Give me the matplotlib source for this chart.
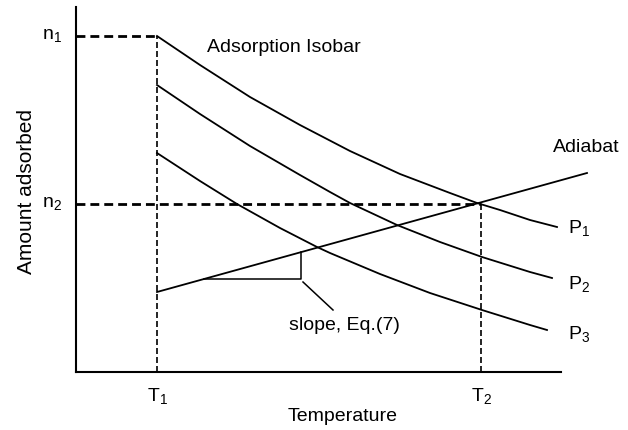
import matplotlib
matplotlib.use("Agg")
import matplotlib.pyplot as plt

plt.rcParams['font.family'] = ['Liberation Sans', 'DejaVu Sans']
plt.rcParams['mathtext.fontset'] = 'custom'
plt.rcParams['mathtext.rm'] = 'Liberation Sans'
plt.rcParams['mathtext.it'] = 'Liberation Sans'

# levels (arbitrary units)
T1, T2 = 81, 405
n1, n2 = 336, 168

# isobars P1 > P2 > P3
p1_T = [81, 124, 174, 224, 274, 324, 374, 401, 424, 454, 481]
p1_n = [336, 307, 275, 247, 221, 198, 179, 169, 162, 152, 145]
p2_T = [81, 124, 174, 224, 254, 274, 321, 364, 406, 454, 476]
p2_n = [287, 258, 226, 197, 180, 169, 147, 130, 115, 100, 94]
p3_T = [81, 124, 161, 204, 241, 254, 304, 354, 406, 454, 471]
p3_n = [219, 191, 168, 144, 125, 119, 98, 79, 62, 47, 42]

# adiabat and its slope triangle
adi_T = [81, 511]
adi_n = [80, 199]
tri_T = [128, 225, 225]
tri_n = [93, 93, 120]
lead_T = [227, 257]
lead_n = [90, 62]

fig = plt.figure(figsize=(6.28, 4.30), dpi=100)
ax = fig.add_axes([76 / 628, (430 - 372) / 430, (561 - 76) / 628, (372 - 7) / 430])
ax.set_xlim(0, 485)
ax.set_ylim(0, 365)

for s in ['top', 'right']:
    ax.spines[s].set_visible(False)
for s in ['left', 'bottom']:
    ax.spines[s].set_linewidth(1.5)
ax.set_xticks([])
ax.set_yticks([])

# guide lines
ax.plot([0, T1], [n1, n1], color='k', lw=2.0, dashes=(3.2, 1.8), zorder=1)
ax.plot([0, T2], [n2, n2], color='k', lw=2.0, dashes=(3.2, 1.8), zorder=1)
ax.plot([T1, T1], [0, n1], color='k', lw=1.2, dashes=(3.6, 1.8), zorder=1)
ax.plot([T2, T2], [0, n2], color='k', lw=1.2, dashes=(3.6, 1.8), zorder=1)

lw = 1.3
for T, n in [(p1_T, p1_n), (p2_T, p2_n), (p3_T, p3_n)]:
    ax.plot(T, n, color='k', lw=lw, clip_on=False, zorder=2,
            solid_joinstyle='round')
ax.plot(adi_T, adi_n, color='k', lw=lw, clip_on=False, zorder=2)
ax.plot(tri_T, tri_n, color='k', lw=1.1, zorder=2)
ax.plot(lead_T, lead_n, color='k', lw=1.1, zorder=2)

fs = 14
ax.text(131, 320, 'Adsorption Isobar', fontsize=fs, va='baseline')
ax.text(477, 220, 'Adiabat', fontsize=fs, va='baseline')
ax.text(492, 144, r'$\mathrm{P_1}$', fontsize=fs, va='center')
ax.text(492, 88, r'$\mathrm{P_2}$', fontsize=fs, va='center')
ax.text(492, 38, r'$\mathrm{P_3}$', fontsize=fs, va='center')
ax.text(213, 47, 'slope, Eq.(7)', fontsize=fs, va='center')

ax.text(-14, n1, r'$\mathrm{n_1}$', fontsize=fs, ha='right', va='center')
ax.text(-14, n2, r'$\mathrm{n_2}$', fontsize=fs, ha='right', va='center')
ax.text(T1, -14, r'$\mathrm{T_1}$', fontsize=fs, ha='center', va='top')
ax.text(T2, -14, r'$\mathrm{T_2}$', fontsize=fs, ha='center', va='top')

ax.text(267, -36, 'Temperature', fontsize=fs, ha='center', va='top')
ax.text(-49, 181, 'Amount adsorbed', fontsize=15, ha='center', va='center',
        rotation=90)

fig.savefig('out.png', dpi=100)
